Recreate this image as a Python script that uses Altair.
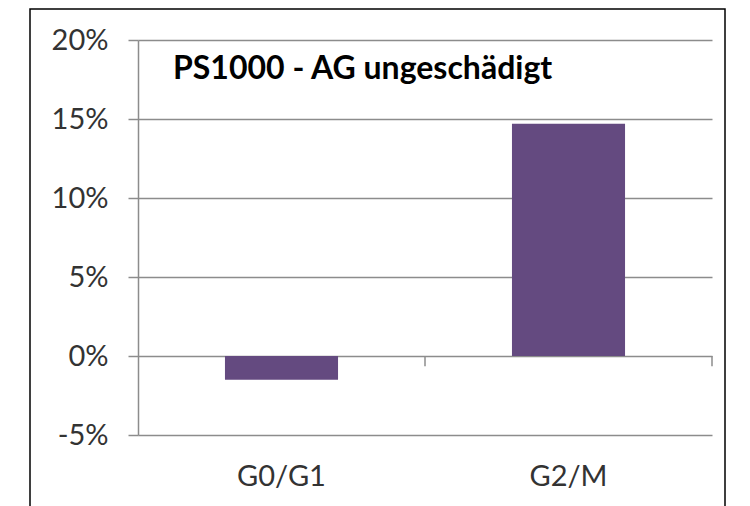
import altair as alt
import pandas as pd

categories = ["G0/G1", "G2/M"]
values = [-0.015, 0.147]
title_text = "PS1000 - AG ungeschädigt"

df = pd.DataFrame({"cat": categories, "val": values})

FONT = "Lato"
GRID = "#8c8c8c"
TXT = "#333333"

xscale = alt.Scale(domain=categories, paddingInner=0, paddingOuter=0)
yscale = alt.Scale(domain=[-0.05, 0.20], nice=False)

base = alt.Chart(df)

bars = base.mark_bar(width=alt.RelativeBandSize(0.394), color="#644A80").encode(
    x=alt.X("cat:N", scale=xscale, sort=categories,
            axis=alt.Axis(title=None, domain=False, ticks=False, labelAngle=0,
                          labelFont=FONT, labelFontSize=29, labelColor=TXT,
                          labelPadding=27)),
    y=alt.Y("val:Q", scale=yscale,
            axis=alt.Axis(title=None, values=[-0.05, 0, 0.05, 0.10, 0.15, 0.20],
                          labelExpr="replace(format(datum.value, '.0%'), '\u2212', '-')",
                          grid=True, gridColor=GRID, gridWidth=1.5,
                          domain=True, domainColor=GRID, domainWidth=1.5,
                          ticks=True, tickColor=GRID, tickSize=10, tickWidth=1.5,
                          labelFont=FONT, labelFontSize=29, labelColor=TXT,
                          labelPadding=20)),
)

cat_ticks = base.mark_rule(color=GRID, strokeWidth=1.5).encode(
    x=alt.X("cat:N", scale=xscale, sort=categories, bandPosition=1),
    y=alt.datum(0),
    y2=alt.datum(-0.0065),
)

title = alt.Chart(pd.DataFrame({"t": [title_text]})).mark_text(
    align="left", baseline="alphabetic", font=FONT, fontWeight="bold",
    fontSize=32, color="#000000"
).encode(x=alt.value(35), y=alt.value(39), text="t:N")

frame = alt.Chart(pd.DataFrame({"a": [0]})).mark_rect(
    fill=None, stroke="#000000", strokeWidth=1.5, clip=False
).encode(x=alt.value(-108), x2=alt.value(587), y=alt.value(-31), y2=alt.value(520))

chart = alt.layer(bars, cat_ticks, title, frame).properties(
    width=574, height=395,
    autosize=alt.AutoSizeParams(type="none"),
    padding={"left": 130, "top": 32, "right": 30, "bottom": 100},
    background="white",
).configure_view(stroke=None)

chart.save("out.html", embed_options={"renderer": "svg", "actions": False})
